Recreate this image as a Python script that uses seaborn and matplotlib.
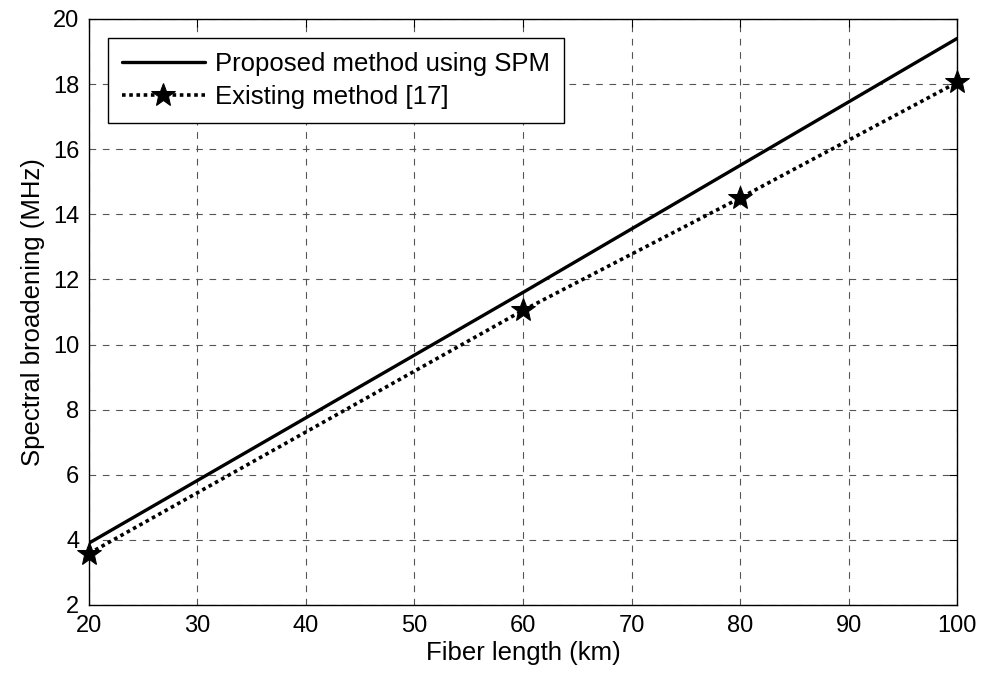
import matplotlib
matplotlib.use("Agg")
import matplotlib.pyplot as plt
import pandas as pd
import seaborn as sns

# data
proposed_len = [20, 40, 60, 80, 100]
proposed_broad = [3.9, 7.75, 11.6, 15.5, 19.4]
existing_len = [20, 60, 80, 100]
existing_broad = [3.58, 11.05, 14.5, 18.05]

x_ticks = [20, 30, 40, 50, 60, 70, 80, 90, 100]
y_ticks = [2, 4, 6, 8, 10, 12, 14, 16, 18, 20]

sns.set_theme(style="white")
plt.rcParams["font.family"] = ["Liberation Sans", "DejaVu Sans"]
plt.rcParams["text.color"] = "black"
plt.rcParams["axes.labelcolor"] = "black"

df_prop = pd.DataFrame({"length": proposed_len, "broad": proposed_broad})
df_exist = pd.DataFrame({"length": existing_len, "broad": existing_broad})

fig = plt.figure(figsize=(9.84, 6.77), dpi=100)
ax = fig.add_axes([0.0904, 0.1064, 0.8822, 0.8656])

sns.lineplot(data=df_prop, x="length", y="broad", ax=ax, color="black",
             linewidth=2.4, label="Proposed method using SPM")
sns.lineplot(data=df_exist, x="length", y="broad", ax=ax, color="black",
             linewidth=2.6, linestyle=(0, (1, 1)), marker="*", markersize=18,
             markeredgecolor="black", markerfacecolor="black",
             label="Existing method [17]", clip_on=False, zorder=5)

ax.set_xlim(20, 100)
ax.set_ylim(2, 20)
ax.set_xticks(x_ticks)
ax.set_yticks(y_ticks)
ax.grid(True, color="#555555", linestyle=(0, (6, 6)), linewidth=0.8)
ax.tick_params(direction="in", length=6, width=0.8, top=True, right=True,
               labelsize=17, colors="black", pad=7)
for s in ax.spines.values():
    s.set_color("black")
    s.set_linewidth(1.0)

ax.set_xlabel("Fiber length (km)", fontsize=18.5, labelpad=3)
ax.set_ylabel("Spectral broadening (MHz)", fontsize=18.5, labelpad=6)

leg = ax.legend(loc="upper left", fontsize=18.5, frameon=True, fancybox=False,
                edgecolor="black", borderaxespad=0.75, handlelength=3.2,
                handletextpad=0.4, labelspacing=0.35, borderpad=0.55)
leg.get_frame().set_linewidth(1.0)
leg.get_frame().set_alpha(1.0)

fig.savefig("out.png", dpi=100)
